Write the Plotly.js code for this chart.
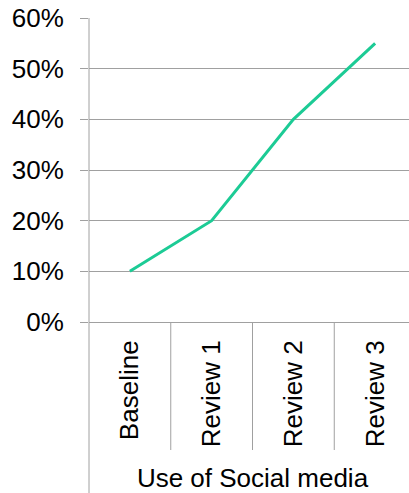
<!DOCTYPE html>
<html>
<head>
<meta charset="utf-8">
<script src="https://cdn.plot.ly/plotly-3.0.1.min.js"></script>
<style>
  html, body { margin: 0; padding: 0; background: #fff; overflow: hidden; }
  #chart { width: 416px; height: 493px; }
</style>
</head>
<body>
<div id="chart"></div>
<script>
// Share of respondents using social media at each review point
const categories = ["Baseline", "Review 1", "Review 2", "Review 3"];
const usageShare = [0.10, 0.20, 0.40, 0.55];
const yTickValues = [0, 0.1, 0.2, 0.3, 0.4, 0.5, 0.6];
const xAxisTitle = "Use of Social media";

const axisGrey = "#a0a0a0";
const font = "Liberation Sans, Arial, sans-serif";
const fontSize = 26;

const plotHeight = 304;      // height of the plotting area in px
const dividerDepth = 128;    // length of the category dividers below the axis

// Category divider lines under the x axis (at category boundaries)
const shapes = [];
for (let i = 1; i < categories.length; i++) {
  shapes.push({
    type: "line", xref: "x", yref: "paper",
    x0: i - 0.5, x1: i - 0.5, y0: 0, y1: -dividerDepth / plotHeight,
    line: { color: axisGrey, width: 1 }
  });
}
// Value axis line running down past the category labels
shapes.push({
  type: "line", xref: "paper", yref: "paper",
  x0: 0, x1: 0, y0: 1, y1: -0.6,
  line: { color: axisGrey, width: 1 }
});

const trace = {
  type: "scatter",
  mode: "lines",
  x: categories,
  y: usageShare,
  line: { color: "#1ccb95", width: 3 },
  hoverinfo: "skip"
};

const layout = {
  width: 416,
  height: 493,
  margin: { l: 89, r: 0, t: 18, b: 171 },
  paper_bgcolor: "#fff",
  plot_bgcolor: "#fff",
  showlegend: false,
  font: { family: font, size: fontSize, color: "#000" },
  xaxis: {
    type: "category",
    range: [-0.5, categories.length - 0.5],
    showgrid: false,
    zeroline: false,
    showline: true,
    linecolor: axisGrey,
    linewidth: 1,
    ticks: "",
    tickangle: -90,
    ticklabelstandoff: 7,
    tickfont: { family: font, size: fontSize, color: "#000" },
    title: {
      text: xAxisTitle,
      font: { family: font, size: fontSize, color: "#000" },
      standoff: 28
    },
    automargin: false,
    fixedrange: true
  },
  yaxis: {
    range: [0, 0.6],
    tickvals: yTickValues,
    tickformat: ".0%",
    showgrid: true,
    gridcolor: axisGrey,
    gridwidth: 1,
    zeroline: false,
    showline: false,
    ticks: "outside",
    ticklen: 8,
    tickcolor: axisGrey,
    tickwidth: 1,
    ticklabelstandoff: 11,
    tickfont: { family: font, size: fontSize, color: "#000" },
    automargin: false,
    fixedrange: true
  },
  shapes: shapes
};

Plotly.newPlot("chart", [trace], layout, { displayModeBar: false, staticPlot: true });
</script>
</body>
</html>
